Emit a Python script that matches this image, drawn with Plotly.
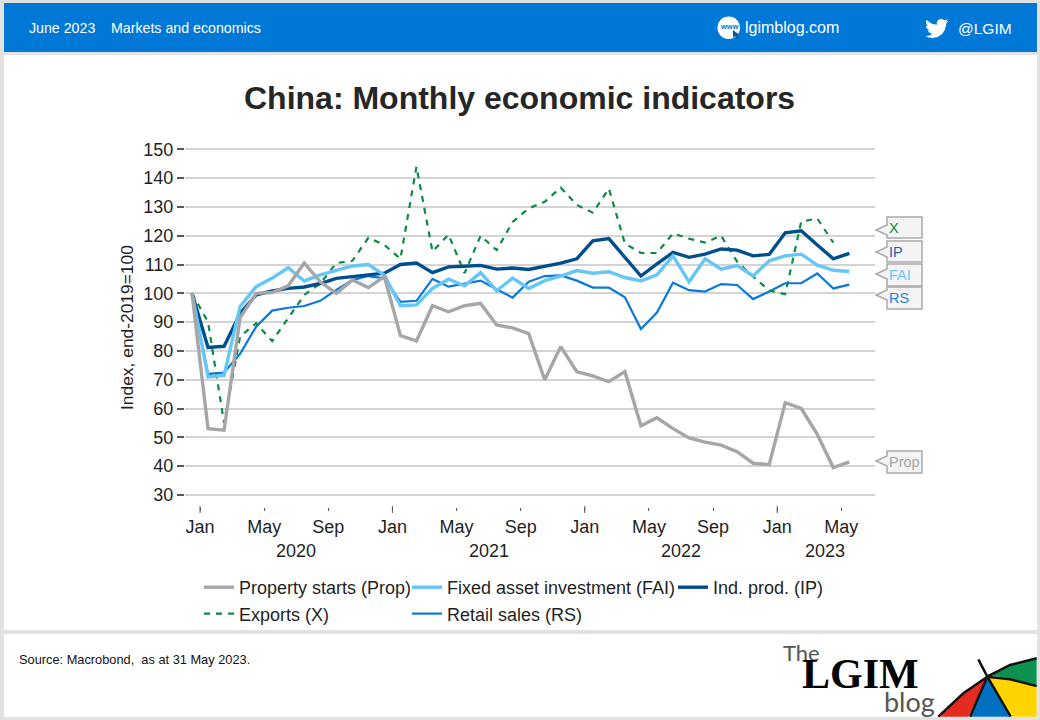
import plotly.graph_objects as go

W, H = 1040, 720
MONTHS = list(range(42))  # month-ends, Dec 2019 = 0 ... May 2023 = 41
PROP = [100, 53, 52.5, 91.5, 100, 100.3, 102.6, 110.5, 104, 100, 104.6, 102, 105.8, 85.3, 83.5, 95.7, 93.6, 95.7, 96.5, 89, 88, 86, 70, 81.5, 72.8, 71.3, 69.3, 72.8, 54, 56.8, 53, 49.8, 48.3, 47.3, 45, 41, 40.5, 62, 60, 51, 39.5, 41.5]
FAI = [100, 71, 71.5, 95.4, 102.3, 105.3, 108.9, 104.3, 106.4, 107.9, 109.5, 110, 106.3, 95.7, 96, 101.7, 104.9, 102.6, 107.2, 100.9, 105.3, 101.7, 104.4, 106, 107.9, 107, 107.5, 105.5, 104.3, 106.4, 113, 104, 112, 108.4, 109.6, 106, 111.3, 113, 113.6, 109.8, 108, 107.6]
IP = [100, 81.2, 81.6, 93, 99.5, 100.8, 101.7, 102.2, 103.4, 105.2, 105.8, 106.5, 107, 110, 110.5, 107.2, 109.2, 109.4, 109.7, 108.4, 108.8, 108.3, 109.5, 110.5, 112, 118.2, 119, 112.5, 106, 110.2, 114.2, 112.5, 113.6, 115.4, 115, 113, 113.5, 121, 121.7, 116.8, 112, 113.9]
EXPORTS = [100, 90, 55, 85, 89.6, 83.4, 91.4, 99.4, 103.4, 110.5, 111.3, 119.3, 116.8, 112, 144, 114.5, 120.4, 107, 120, 115, 124.8, 129.5, 131.8, 136.7, 130.7, 128, 136.4, 117.3, 114, 114, 120.8, 119, 117.6, 120, 111, 105.8, 101, 99.7, 124.9, 126, 117.6, None]
RS = [100, 72, 72.5, 79, 88.4, 94, 95, 95.6, 97.4, 101.2, 104.6, 106, 105.2, 97, 97.4, 105, 102.3, 103.4, 104.4, 101.4, 98.5, 104, 106, 106.2, 104.4, 102, 102, 98.6, 87.6, 93.3, 103.7, 101.1, 100.6, 103.2, 102.9, 98, 100.6, 103.5, 103.5, 106.9, 101.7, 103]
BASELINE = 100
X_TICK_POS = [0.5, 4.5, 8.5, 12.5, 16.5, 20.5, 24.5, 28.5, 32.5, 36.5, 40.5]
X_TICK_TEXT = ["Jan", "May", "Sep", "Jan", "May", "Sep", "Jan", "May", "Sep", "Jan", "May"]
JAN_POS = [0.5, 12.5, 24.5, 36.5]
YEARS = ["2020", "2021", "2022", "2023"]
YEAR_POS = [6.5, 18.5, 30.5, 39.5]
Y_TICKS = list(range(30, 160, 10))

FONT = "Liberation Sans, Arial, sans-serif"
TXT = "#1f1f1f"
C_PROP, C_FAI, C_IP, C_X, C_RS = "#a6a6a6", "#66c7f7", "#004f8c", "#0a8a45", "#0a78dc"

def px(x): return x / W
def py(y): return 1 - y / H
def path(pts, close=True):
    s = "M" + " L".join(f"{px(a):.5f},{py(b):.5f}" for a, b in pts)
    return s + (" Z" if close else "")

shapes, notes = [], []
def rect(x0, y0, x1, y1, color):
    shapes.append(dict(type="rect", xref="paper", yref="paper", x0=px(x0), x1=px(x1), y0=py(y0), y1=py(y1),
                       fillcolor=color, line=dict(width=0), layer="below"))
def poly(pts, fill=None, line=None, width=0, close=True, layer="above"):
    shapes.append(dict(type="path", xref="paper", yref="paper", path=path(pts, close), fillcolor=fill if fill else "rgba(0,0,0,0)",
                       line=dict(color=line or "rgba(0,0,0,0)", width=width), layer=layer))
def text(x, y, s, size, color=TXT, anchor="left", family=FONT, bold=False):
    notes.append(dict(xref="paper", yref="paper", x=px(x - (2 if anchor == "left" else 0)), y=py(y), text=f"<b>{s}</b>" if bold else s, showarrow=False,
                      xanchor=anchor, yanchor="middle", font=dict(size=size, color=color, family=family)))

# page frame
rect(4, 3, 1037, 52, "#0078d7")
rect(4, 55, 1037, 630, "#ffffff")
rect(4, 634, 1037, 717, "#ffffff")

# header
text(29, 28, "June 2023", 14.2, "#ffffff")
text(111, 28, "Markets and economics", 14.2, "#ffffff")
text(745, 28, "lgimblog.com", 16, "#ffffff")
text(958, 28.5, "@LGIM", 15.5, "#ffffff")
shapes.append(dict(type="circle", xref="paper", yref="paper", x0=px(717.5), x1=px(740), y0=py(39), y1=py(16.5), fillcolor="#ffffff", line=dict(width=0)))
text(729, 26.5, "<b>www</b>", 7.5, "#0078d7", "center")
poly([(733, 30), (733, 38), (735, 36), (737, 39), (738.5, 38), (737, 35), (739.5, 35)], fill="#005a9e")
BIRD = [(24, 4.6), (21.1, 5.3), (23.3, 2.6), (20.2, 3.8), (16.6, 2.2), (13.2, 3.6), (12, 6.5), (12.1, 8.5), (7.7, 7.6), (4.2, 5.5), (1.6, 3.2), (1, 5.6), (1.6, 8), (3.2, 9.7), (0.9, 9.1), (1.5, 11.6), (2.8, 13.1), (4.9, 14), (2.7, 14.1), (4, 16), (5.5, 17), (7.5, 17.5), (4.5, 19.3), (1.4, 19.8), (0, 19.7), (3.5, 21.4), (7.6, 22), (13, 21), (17.5, 17.8), (20.3, 13.5), (21.5, 8.5), (21.5, 7.4)]
poly([(925 + a * 0.98, 16.5 + b * 0.98) for a, b in BIRD], fill="#ffffff")

# title and axis captions
text(519, 98, "China: Monthly economic indicators", 32, "#262626", "center", bold=True)
notes.append(dict(xref="paper", yref="paper", x=px(127), y=py(328), text="Index, end-2019=100", textangle=-90, showarrow=False,
                  font=dict(size=17.4, color=TXT, family=FONT), xanchor="center", yanchor="middle"))
for yr, pos in zip(YEARS, YEAR_POS):
    notes.append(dict(xref="x", yref="paper", x=pos, y=py(551), text=yr, showarrow=False, xanchor="center", yanchor="middle",
                      font=dict(size=18, color=TXT, family=FONT)))

# long ticks at each January
for pos in JAN_POS:
    shapes.append(dict(type="line", xref="x", yref="paper", x0=pos, x1=pos, y0=py(506), y1=py(513), line=dict(color="#555555", width=1)))

# baseline
shapes.append(dict(type="line", xref="x domain", yref="y", x0=0, x1=1, y0=BASELINE, y1=BASELINE, line=dict(color="#333333", width=1.5), layer="below"))

# end tags
TAGS = [("X", 217, 238, 230, C_X), ("IP", 241, 262, 252, "#2b5fa8"), ("FAI", 264, 286, 274, C_FAI), ("RS", 287, 309, 295, "#2f80e0"), ("Prop", 451, 473, 461, "#a6a6a6")]
for label, top, bot, tip, col in TAGS:
    poly([(887, top), (922, top), (922, bot), (887, bot), (887, tip + 5), (876, tip), (887, tip - 5)], fill="#f4f4f4", line="#a9a9a9", width=1.5)
    text(889, (top + bot) / 2, label, 14.5, col)

# source
text(19, 659, "Source: Macrobond,  as at 31 May 2023.", 12.8, "#111111")

# logo
text(783, 652, "The", 22, "#555555", family="Lato, Open Sans, sans-serif")
text(802, 674, "<b>LGIM</b>", 42, "#000000", family="Liberation Serif, serif")
text(884, 701, "blog", 27, "#555555", family="Lato, Open Sans, sans-serif")
def z(a, b): return (760 + a / 3, 630 + b / 3)
poly([z(682, 140), z(610, 190), z(535, 260), z(625, 260)], fill="#e42b20")
poly([z(682, 140), z(630, 260), z(748, 260)], fill="#0070c0")
poly([z(682, 140), z(755, 260), z(830, 260), z(830, 168), z(750, 148)], fill="#ffd400")
poly([z(682, 135), z(750, 105), z(830, 85), z(830, 165), z(750, 145)], fill="#0c9150")
for seg in ([z(655, 88), z(682, 140), z(752, 260)], [z(682, 140), z(630, 260)], [z(682, 140), z(750, 105), z(830, 85)], [z(682, 140), z(750, 148), z(830, 168)], [z(682, 140), z(610, 190), z(535, 260)]):
    poly(seg, line="#111111", width=2.5, close=False)

fig = go.Figure()
series = [("Property starts (Prop)", PROP, C_PROP, 3.4, None, 5, "legend"),
          ("Fixed asset investment (FAI)", FAI, C_FAI, 3.4, None, 4, "legend2"),
          ("Ind. prod. (IP)", IP, C_IP, 3.4, None, 3, "legend3"),
          ("Exports (X)", EXPORTS, C_X, 2.2, "6px,6px", 2, "legend"),
          ("Retail sales (RS)", RS, C_RS, 2.2, None, 1, "legend2")]
for name, vals, col, wd, dash, zo, leg in series:
    fig.add_trace(go.Scatter(x=MONTHS, y=vals, name=name, mode="lines", zorder=zo, legend=leg,
                             line=dict(color=col, width=wd, dash=dash), hoverinfo="x+y+name"))

def legend_at(x):
    return dict(orientation="v", x=px(x), y=py(569), xanchor="left", yanchor="top", bgcolor="rgba(0,0,0,0)",
                font=dict(size=18, color=TXT), itemwidth=30, tracegroupgap=0, borderwidth=0)

fig.update_layout(
    width=W, height=H, margin=dict(l=0, r=0, t=0, b=0, autoexpand=False), autosize=False,
    paper_bgcolor="#e2e2e2", plot_bgcolor="rgba(0,0,0,0)",
    font=dict(family=FONT, size=18, color=TXT),
    shapes=shapes, annotations=notes,
    xaxis=dict(domain=[px(185), px(875)], range=[-0.437, 42.6], tickmode="array", tickvals=X_TICK_POS, ticktext=X_TICK_TEXT,
               ticks="outside", ticklen=3, tickcolor="#555555", showline=True, linecolor="#555555", linewidth=1.5,
               showgrid=False, zeroline=False, tickfont=dict(size=18, color=TXT), ticklabelstandoff=1),
    yaxis=dict(domain=[py(506), py(143)], range=[26.15, 152.2], tickmode="array", tickvals=Y_TICKS,
               ticks="outside", ticklen=7, tickcolor="#555555", tickwidth=2, showline=False, gridcolor="#d4d4d4", gridwidth=2,
               zeroline=False, tickfont=dict(size=18, color=TXT)),
    legend=legend_at(199), legend2=legend_at(407), legend3=legend_at(673),
    showlegend=True,
)
fig.write_html("out.html", config=dict(displayModeBar=False),
               post_script="document.body.style.margin='0';document.body.style.background='#e2e2e2';")
